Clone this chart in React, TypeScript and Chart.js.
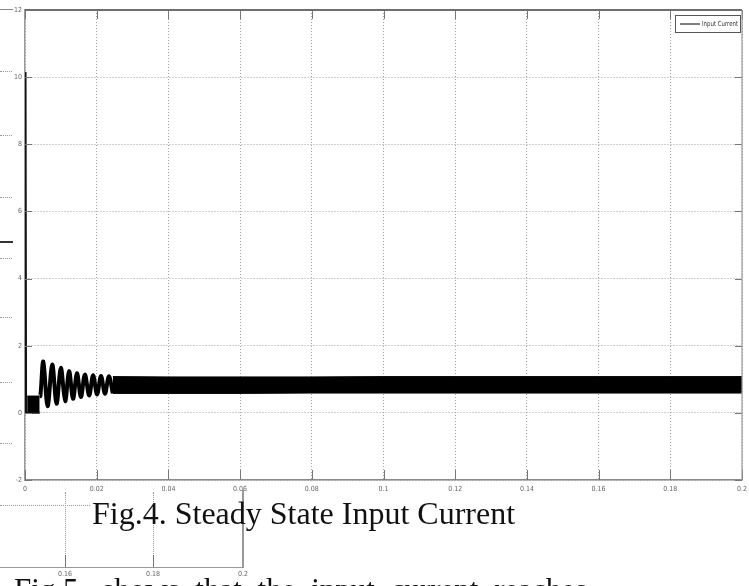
import React, { useEffect, useRef } from "react";
import { Chart, registerables } from "chart.js";

Chart.register(...registerables);

// Axis ticks
const timeTicks = [0, 0.02, 0.04, 0.06, 0.08, 0.1, 0.12, 0.14, 0.16, 0.18, 0.2];
const currentTicks = [-2, 0, 2, 4, 6, 8, 10, 12];

// Start-up spike of the input current (s, A)
const spikeTime = [0, 0.00015, 0.0003, 0.0041];
const spikeCurrent = [0, 10.15, 0, 0];

// Decaying start-up oscillation (s, A)
const transientTime = [0.0041, 0.0043, 0.0051, 0.0063, 0.0076, 0.0088, 0.01, 0.0112, 0.0123, 0.0134, 0.0145, 0.0156, 0.0167, 0.0179, 0.019, 0.0201, 0.0212, 0.0223, 0.0234, 0.0245];
const transientCurrent = [0.5, 0.5, 1.53, 0.2, 1.44, 0.27, 1.34, 0.35, 1.24, 0.42, 1.18, 0.47, 1.14, 0.52, 1.12, 0.55, 1.1, 0.57, 1.09, 0.58];

// Initial switching block
const blockTime = [0.0006, 0.0041];
const blockCurrent = [0.5, 0.5];

// Steady-state ripple envelope
const bandTime = [0.0245, 0.04, 0.06, 0.08, 0.1, 0.12, 0.14, 0.16, 0.18, 0.2];
const bandUpper = [1.08, 1.07, 1.07, 1.07, 1.08, 1.08, 1.08, 1.08, 1.08, 1.08];
const bandLower = [0.58, 0.58, 0.58, 0.59, 0.59, 0.59, 0.59, 0.59, 0.59, 0.59];

const legendLabel = "Input Current";
const caption = "Fig.4. Steady State Input Current";
const nextLine = "Fig.5. shows that the input current reaches";
const neighbourTicks = ["0.16", "0.18", "0.2"];

const tickFont = '"Liberation Sans Narrow", "DejaVu Sans Condensed", sans-serif';

const framePlugin = {
  id: "matlabFrame",
  afterDatasetsDraw(chart: any) {
    const { ctx, chartArea: a, scales } = chart;
    ctx.save();
    // inner tick marks
    ctx.strokeStyle = "#777";
    ctx.lineWidth = 1;
    scales.x.ticks.forEach((t: any) => {
      const x = Math.round(scales.x.getPixelForValue(t.value)) + 0.5;
      ctx.beginPath();
      ctx.moveTo(x, a.bottom);
      ctx.lineTo(x, a.bottom - 10);
      ctx.moveTo(x, a.top);
      ctx.lineTo(x, a.top + 9);
      ctx.stroke();
    });
    scales.y.ticks.forEach((t: any) => {
      const y = Math.round(scales.y.getPixelForValue(t.value)) + 0.5;
      ctx.beginPath();
      ctx.moveTo(a.left, y);
      ctx.lineTo(a.left + 7, y);
      ctx.moveTo(a.right, y);
      ctx.lineTo(a.right - 7, y);
      ctx.stroke();
    });
    // top & right border
    ctx.strokeStyle = "#6e6e6e";
    ctx.lineWidth = 2;
    ctx.beginPath();
    ctx.moveTo(a.left, a.top);
    ctx.lineTo(a.right, a.top);
    ctx.stroke();
    ctx.strokeStyle = "#999";
    ctx.lineWidth = 1.2;
    ctx.beginPath();
    ctx.moveTo(a.right, a.top);
    ctx.lineTo(a.right, a.bottom);
    ctx.stroke();
    // legend box inside plot area
    const bw = 65;
    const bh = 17;
    const bx = a.right - 2 - bw;
    const by = a.top + 5;
    ctx.fillStyle = "#fff";
    ctx.fillRect(bx, by, bw, bh);
    ctx.strokeStyle = "#555";
    ctx.lineWidth = 1;
    ctx.strokeRect(bx + 0.5, by + 0.5, bw, bh);
    ctx.strokeStyle = "#000";
    ctx.beginPath();
    ctx.moveTo(bx + 5, by + bh / 2 + 0.5);
    ctx.lineTo(bx + 25, by + bh / 2 + 0.5);
    ctx.stroke();
    ctx.fillStyle = "#333";
    ctx.font = "7px " + tickFont;
    ctx.textBaseline = "middle";
    ctx.textAlign = "left";
    const w = ctx.measureText(legendLabel).width;
    const target = 36;
    ctx.translate(bx + 27, by + bh / 2 + 1);
    ctx.scale(Math.min(1, target / w), 1);
    ctx.fillText(legendLabel, 0, 0);
    ctx.restore();
  },
};

function ChartCanvas() {
  const ref = useRef<HTMLCanvasElement | null>(null);
  useEffect(() => {
    if (!ref.current) return;
    const pts = (xs: number[], ys: number[]) => xs.map((x, i) => ({ x, y: ys[i] }));
    const chart = new Chart(ref.current, {
      type: "line",
      data: {
        datasets: [
          {
            label: legendLabel,
            data: pts(transientTime, transientCurrent),
            borderColor: "#000",
            borderWidth: 4,
            pointRadius: 0,
            tension: 0.35,
            fill: false,
          },
          {
            label: "spike",
            data: pts(spikeTime, spikeCurrent),
            borderColor: "#111",
            borderWidth: 2,
            pointRadius: 0,
            tension: 0,
            fill: false,
          },
          {
            label: "block",
            data: pts(blockTime, blockCurrent),
            borderColor: "#000",
            backgroundColor: "#000",
            borderWidth: 1,
            pointRadius: 0,
            fill: "origin",
          },
          {
            label: "upper",
            data: pts(bandTime, bandUpper),
            borderColor: "#000",
            backgroundColor: "#000",
            borderWidth: 1,
            pointRadius: 0,
            fill: "+1",
          },
          {
            label: "lower",
            data: pts(bandTime, bandLower),
            borderColor: "#000",
            borderWidth: 1,
            pointRadius: 0,
            fill: false,
          },
        ],
      },
      options: {
        animation: false,
        responsive: false,
        devicePixelRatio: 1,
        layout: { padding: { left: 0, top: 10, right: 7, bottom: 86 } },
        plugins: { legend: { display: false }, tooltip: { enabled: false } },
        scales: {
          x: {
            type: "linear",
            min: 0,
            max: 0.2,
            afterBuildTicks: (s: any) => {
              s.ticks = timeTicks.map((v) => ({ value: v }));
            },
            afterFit: (s: any) => {
              s.height = 20;
              s.paddingLeft = 0;
              s.paddingRight = 0;
            },
            grid: { color: "#a0a0a0", lineWidth: 1, drawTicks: false },
            border: { color: "#8a8a8a", width: 1.5, dash: [1, 2] },
            ticks: {
              padding: 5,
              color: "#666",
              font: { family: tickFont, size: 7 },
              maxRotation: 0,
              autoSkip: false,
              callback: (v: any) => String(Number(Number(v).toFixed(2))),
            },
          },
          y: {
            type: "linear",
            min: -2,
            max: 12,
            afterBuildTicks: (s: any) => {
              s.ticks = currentTicks.map((v) => ({ value: v }));
            },
            afterFit: (s: any) => {
              s.width = 25;
              s.paddingTop = 0;
              s.paddingBottom = 0;
            },
            grid: { color: "#a0a0a0", lineWidth: 1, drawTicks: false },
            border: { color: "#9a9a9a", width: 1.5, dash: [1, 2] },
            ticks: {
              padding: 3,
              color: "#666",
              font: { family: tickFont, size: 7 },
              autoSkip: false,
            },
          },
        },
      },
      plugins: [framePlugin],
    } as any);
    return () => chart.destroy();
  }, []);
  return <canvas ref={ref} width={749} height={586} style={{ position: "absolute", left: 0, top: 0, width: 749, height: 586 }} />;
}

const dotted = (left: number, top: number, width: number) => (
  <div key={`d${left}-${top}`} style={{ position: "absolute", left, top, width, height: 0, borderTop: "1px dotted #9a9a9a" }} />
);
const vDotted = (left: number, top: number, height: number) => (
  <div key={`v${left}-${top}`} style={{ position: "absolute", left, top, width: 0, height, borderLeft: "1px dotted #9a9a9a" }} />
);

export default function App() {
  const leftGridY = [71, 135, 197, 258, 317, 382, 443];
  const neighbourX = [65, 153, 243];
  return (
    <div style={{ position: "absolute", left: 0, top: 0, width: 749, height: 586, overflow: "hidden", background: "#fff" }}>
      <ChartCanvas />
      {/* neighbouring figure fragments at the left edge */}
      <div style={{ position: "absolute", left: 0, top: 9, width: 13, height: 0, borderTop: "1px solid #888" }} />
      {leftGridY.map((y) => dotted(0, y, 12))}
      <div style={{ position: "absolute", left: 0, top: 241, width: 13, height: 0, borderTop: "2px solid #333" }} />
      {/* fragment of the next figure at the bottom-left */}
      {dotted(0, 505, 90)}
      {vDotted(65, 492, 62)}
      {vDotted(153, 492, 62)}
      <div style={{ position: "absolute", left: 65, top: 555, width: 0, height: 12, borderLeft: "1px solid #777" }} />
      <div style={{ position: "absolute", left: 153, top: 555, width: 0, height: 12, borderLeft: "1px solid #777" }} />
      <div style={{ position: "absolute", left: 242, top: 490, width: 0, height: 78, borderLeft: "2px solid #999" }} />
      <div style={{ position: "absolute", left: 0, top: 567, width: 244, height: 0, borderTop: "1.5px solid #999" }} />
      {neighbourTicks.map((t, i) => (
        <span
          key={t}
          style={{
            position: "absolute",
            left: neighbourX[i] - 10,
            width: 20,
            top: 570,
            textAlign: "center",
            fontFamily: tickFont,
            fontSize: 7,
            lineHeight: "8px",
            color: "#666",
          }}
        >
          {t}
        </span>
      ))}
      <div
        style={{
          position: "absolute",
          left: 92,
          top: 497,
          fontFamily: '"Liberation Serif", "Times New Roman", serif',
          fontSize: 32,
          lineHeight: "32px",
          color: "#111",
          whiteSpace: "nowrap",
        }}
      >
        {caption}
      </div>
      <div
        style={{
          position: "absolute",
          left: 14,
          top: 574,
          fontFamily: '"Liberation Serif", "Times New Roman", serif',
          fontSize: 31,
          lineHeight: "31px",
          wordSpacing: 8,
          color: "#111",
          whiteSpace: "nowrap",
        }}
      >
        {nextLine}
      </div>
    </div>
  );
}
